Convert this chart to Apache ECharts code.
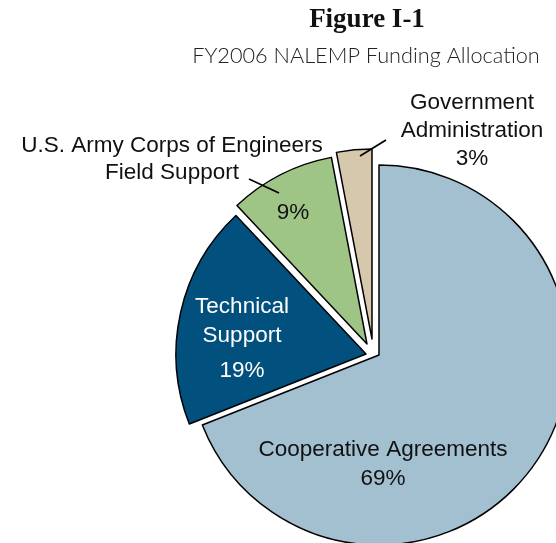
<!DOCTYPE html>
<html>
<head>
<meta charset="utf-8">
<script src="https://cdn.jsdelivr.net/npm/echarts@6/dist/echarts.min.js"></script>
<style>
  html, body { margin: 0; padding: 0; background: #fff; }
  #Chart { width: 556px; height: 543px; }
</style>
</head>
<body>
<div id="Chart"></div>
<script>
// data
var categories = ['Cooperative Agreements', 'Technical Support', 'U.S. Army Corps of Engineers Field Support', 'Government Administration'];
var values = [69, 19, 9, 3];
var labelNames = ['Cooperative Agreements', 'Technical\nSupport', 'U.S. Army Corps of Engineers\nField Support', 'Government\nAdministration'];

// look
var sliceColors = ['#a3c0d1', '#02507e', '#9ec486', '#d6c8ac'];
var textColors = ['#111', '#fff', '#111', '#111'];
var labelFont = 'Liberation Sans, Arial, sans-serif';
var baseCenter = [379, 355];
var sliceShift = [[0, 0], [-13, -1], [-12, -11], [-7, -16]];
var labelPos = [[383, 464], [242, 342], [172, 159], [472, 131]];
var leaderLines = [null, null, [[279, 193], [264, 186], [249, 179]], [[360, 156], [373, 148], [386, 140]]];
var pctPos = [293, 213]; // 9% inside the green slice

var myChart = echarts.init(document.getElementById('Chart'));

function sliceData(i, draw) {
    return categories.map(function (n, j) {
        return {
            name: n,
            value: values[j],
            itemStyle: j === i && draw
                ? { color: sliceColors[i], borderColor: '#000', borderWidth: 1.5 }
                : { color: 'rgba(0,0,0,0)', borderWidth: 0 },
            label: { show: !draw && j === i },
            labelLine: { show: !draw && j === i && !!leaderLines[i] }
        };
    });
}

function baseSeries(i) {
    return {
        type: 'pie',
        center: [baseCenter[0] + sliceShift[i][0], baseCenter[1] + sliceShift[i][1]],
        radius: 190,
        startAngle: 90,
        clockwise: true,
        silent: true,
        animation: false,
        avoidLabelOverlap: false
    };
}

// label series: transparent sectors, drawn above the slices
function labelSeries(i, formatter, pos, line) {
    var s = baseSeries(i);
    s.z = 5;
    s.data = sliceData(i, false);
    s.data[i].labelLine.show = !!line;
    s.label = {
        position: 'outside',
        formatter: formatter,
        fontFamily: labelFont,
        fontSize: 22.5,
        color: textColors[i],
        lineHeight: [29, 29, 27, 28][i],
        rich: {
            n: { fontSize: 22.5, lineHeight: 29, color: textColors[i], fontFamily: labelFont },
            p: { fontSize: 22.5, lineHeight: 41, color: textColors[i], fontFamily: labelFont }
        }
    };
    s.labelLine = { lineStyle: { color: '#000', width: 1.7 } };
    s.labelLayout = function () {
        var o = { x: pos[0], y: pos[1], align: 'center', verticalAlign: 'middle' };
        if (line) {
            o.labelLinePoints = line;
        }
        return o;
    };
    return s;
}

var series = [];
categories.forEach(function (name, i) {
    var s = baseSeries(i);
    s.z = 2;
    s.data = sliceData(i, true);
    s.label = { show: false };
    s.labelLine = { show: false };
    series.push(s);
});

categories.forEach(function (name, i) {
    series.push(labelSeries(i, function (p) {
        var pct = Math.round(p.percent) + '%';
        var lines = labelNames[i].split('\n');
        if (i === 1) {
            return lines.map(function (l) { return '{n|' + l + '}'; }).join('\n') + '\n{p|' + pct + '}';
        }
        if (i === 2) {
            return labelNames[i];
        }
        return labelNames[i] + '\n' + pct;
    }, labelPos[i], leaderLines[i]));
});

// percent label of the field support slice
series.push(labelSeries(2, function (p) {
    return Math.round(p.percent) + '%';
}, pctPos, null));

var option = {
    backgroundColor: '#fff',
    title: [
        {
            text: 'Figure I-1',
            left: 367,
            top: 7,
            padding: 0,
            textAlign: 'center',
            textStyle: {
                fontFamily: 'Liberation Serif, serif',
                fontWeight: 'bold',
                fontSize: 27,
                color: '#111'
            }
        },
        {
            text: 'FY2006 NALEMP Funding Allocation',
            left: 366,
            top: 45,
            padding: 0,
            textAlign: 'center',
            textStyle: {
                fontFamily: 'Lato, sans-serif',
                fontWeight: 300,
                fontSize: 21.7,
                color: '#222'
            }
        }
    ],
    series: series
};
myChart.setOption(option);
window.addEventListener('resize', function () {
    myChart.resize();
});
</script>
</body>
</html>
